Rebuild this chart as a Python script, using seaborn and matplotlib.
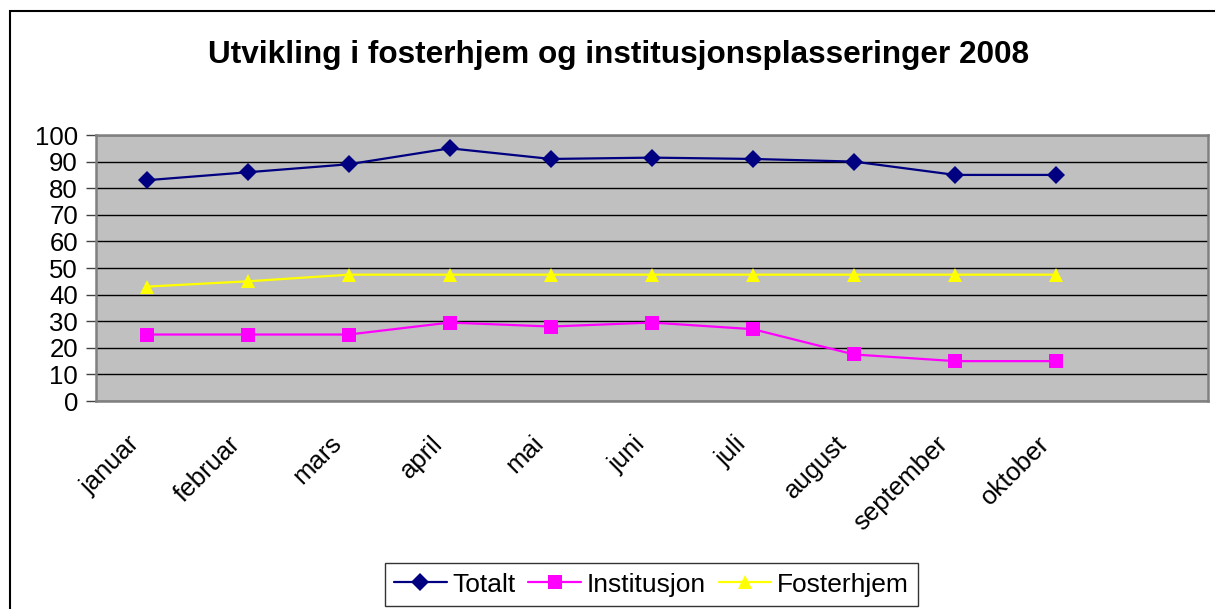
import numpy as np
import pandas as pd
import matplotlib
matplotlib.use("Agg")
import matplotlib.pyplot as plt
import matplotlib.transforms as mtransforms
from matplotlib.patches import Rectangle
import seaborn as sns

# Data (lest av fra figuren)
maaneder = ["januar", "februar", "mars", "april", "mai", "juni",
            "juli", "august", "september", "oktober"]
totalt = [83, 86, 89, 95, 91, 91.5, 91, 90, 85, 85]
institusjon = [25, 25, 25, 29.5, 28, 29.5, 27, 17.5, 15, 15]
fosterhjem = [43, 45, 47.5, 47.5, 47.5, 47.5, 47.5, 47.5, 47.5, 47.5]
y_ticks = list(range(0, 101, 10))

serier = {"Totalt": totalt, "Institusjon": institusjon, "Fosterhjem": fosterhjem}
farger = {"Totalt": "#000080", "Institusjon": "#FF00FF", "Fosterhjem": "#FFFF00"}
markorer = {"Totalt": "D", "Institusjon": "s", "Fosterhjem": "^"}

df = pd.concat([pd.DataFrame({"maaned": maaneder, "antall": v, "serie": navn})
                for navn, v in serier.items()], ignore_index=True)

sns.set_style("white")
plt.rcParams["font.family"] = ["Liberation Sans", "DejaVu Sans"]
plt.rcParams["text.color"] = "black"
plt.rcParams["xtick.color"] = "black"
plt.rcParams["ytick.color"] = "black"

fig = plt.figure(figsize=(12.15, 6.09), dpi=100)
ax = fig.add_axes([0.079, 0.3415, 0.9152, 0.4368])
ax.set_facecolor("#C0C0C0")

sns.lineplot(data=df, x="maaned", y="antall", hue="serie", style="serie",
             palette=farger, markers=markorer, dashes=False, sort=False,
             linewidth=1.6, markersize=9.5, markeredgewidth=0, ax=ax)

# Akser
ax.set_xlim(-0.5, 10.5)
ax.set_ylim(0, 100)
ax.set_yticks(y_ticks)
ax.set_yticklabels([str(t) for t in y_ticks], fontsize=18.5)
ax.set_xticks(range(len(maaneder)))
ax.set_xticklabels(maaneder, rotation=45, ha="right", va="center",
                   rotation_mode="anchor", fontsize=18.5)
ax.set_xticks(np.arange(-0.5, 11, 1), minor=True)
ax.tick_params(axis="x", which="major", length=0, pad=28)
ax.tick_params(axis="x", which="minor", length=7, width=1, color="#404040", direction="out")
ax.tick_params(axis="y", length=7, width=1, color="#404040", labelcolor="black",
               direction="out", pad=6, left=True)
# flytt etikettene litt til venstre, som i Excel
forskyv = mtransforms.ScaledTranslation(-11 / 100, 0, fig.dpi_scale_trans)
for lbl in ax.get_xticklabels():
    lbl.set_transform(lbl.get_transform() + forskyv)
ax.set_xlabel("")
ax.set_ylabel("")
ax.grid(axis="y", color="black", linewidth=1)
ax.set_axisbelow(True)
for s in ax.spines.values():
    s.set_color("#808080")
    s.set_linewidth(1.8)

fig.text(0.509, 0.91, "Utvikling i fosterhjem og institusjonsplasseringer 2008",
         ha="center", va="center", fontsize=22.7, fontweight="bold", color="black")

# Legende
handles, labels = ax.get_legend_handles_labels()
ax.legend_.remove()
leg = fig.legend(handles, labels, ncol=3, loc="center", bbox_to_anchor=(0.536, 0.04),
                 frameon=True, fancybox=False, edgecolor="black", fontsize=19,
                 handlelength=2.0, columnspacing=0.5, handletextpad=0.2,
                 borderpad=0.35)
leg.get_frame().set_linewidth(1)

# Ramme rundt diagrammet
fig.patches.append(Rectangle((10 / 1215, -0.1), 1.2, 1 - 11 / 609 + 0.1,
                             transform=fig.transFigure, fill=False,
                             edgecolor="black", linewidth=1.5))

fig.savefig("out.png", dpi=100)
